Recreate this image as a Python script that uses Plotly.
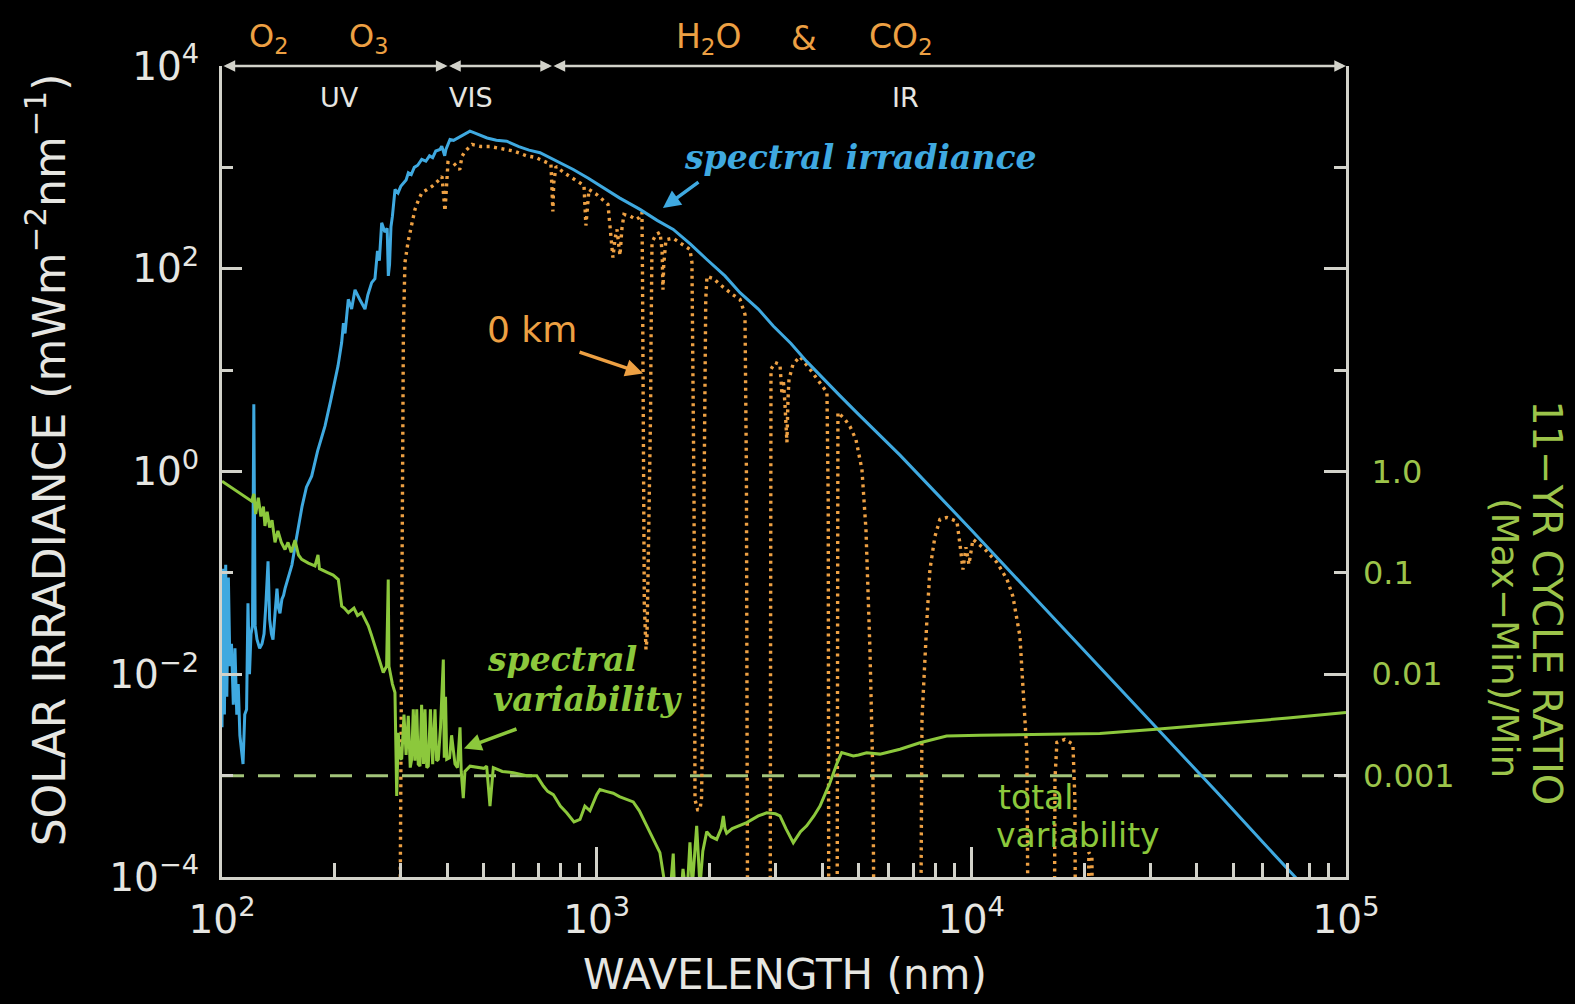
import math
import plotly.graph_objects as go

# ---------------- data ----------------
# Top-of-atmosphere solar spectral irradiance (mW m^-2 nm^-1)
toa_wavelength = [
    100, 100.8, 101.5, 102.3, 103, 104, 105, 106, 107.2, 108.3, 109.5, 110.5,
    111.6, 112.8, 113.8, 115, 116.3, 117.3, 118.4, 119.5, 120.6, 121.6, 122.6,
    124, 126, 127.9, 129.5, 131, 132.7, 134, 135.5, 136.8, 138.5, 140.2, 141.5,
    142.8, 144.5, 146, 147.3, 150, 153.7, 158, 163.5, 168, 173.5, 180, 188.3,
    195, 200, 204, 208.6, 210.9, 213, 217.3, 221.8, 226.5, 233, 240.8, 245,
    250.9, 256, 260, 263, 266.8, 272, 276, 277.9, 280, 282.5, 285, 289.6, 295,
    300, 305, 310, 314.3, 320, 326, 333, 341.2, 350, 358, 365, 372, 381.8, 386,
    393, 396, 406, 415, 425, 436, 446, 459, 470, 490, 510, 540, 575, 620, 660,
    706, 760, 800, 866, 950, 1063, 1150, 1305, 1450, 1601, 1780, 1965, 2200,
    2413, 2700, 2960, 3300, 3634, 4000, 4457, 5000, 5600, 6450, 8000, 10000,
    14000, 20000, 30000, 45000, 60000, 80000,
]
toa_irradiance = [
    0.0030, 0.11, 0.004, 0.12, 0.006, 0.09, 0.012, 0.02, 0.005, 0.018, 0.004,
    0.008, 0.0025, 0.0016, 0.0013, 0.004, 0.0045, 0.05, 0.01, 0.025, 0.03, 4.6,
    0.03, 0.022, 0.018, 0.02, 0.025, 0.05, 0.13, 0.035, 0.025, 0.022, 0.04,
    0.07, 0.045, 0.04, 0.055, 0.06, 0.07, 0.09, 0.12, 0.22, 0.45, 0.7, 0.9,
    1.6, 2.8, 5.0, 8.0, 11, 18.6, 29, 23, 50, 40, 62, 50, 40, 55, 73, 80, 150,
    120, 284, 230, 250, 85, 110, 260, 330, 605, 560, 650, 700, 750, 885, 850,
    1000, 1050, 1197, 1150, 1300, 1250, 1450, 1503, 1620, 1300, 1500, 1884,
    1850, 1950, 2032, 2150, 2275, 2200, 2050, 1950, 1850, 1813, 1600, 1480,
    1393, 1220, 1110, 953, 780, 605, 500, 385, 300, 244, 175, 124, 85, 58, 40,
    27.2, 18.3, 12.2, 8.4, 5.6, 3.66, 2.42, 1.45, 0.63, 0.265, 0.070, 0.0172,
    0.0035, 7.0e-4, 2.2e-4, 7.0e-5,
]

# Surface (0 km) spectral irradiance; 1e-6 marks fully absorbed bands
surface_wavelength = [
    297, 300.4, 302.3, 304.9, 307.8, 313.6, 320, 327.4, 334, 341.9, 352, 363.4,
    375, 386.5, 393.7, 397, 401, 415, 431, 437, 445, 465, 490, 519, 545, 576,
    600, 650, 690, 706, 730, 755, 760, 764, 768, 779, 820, 875, 910, 925, 936,
    945, 954, 1000, 1040, 1072, 1105, 1120, 1133, 1145, 1154, 1168, 1183, 1230,
    1273, 1300, 1321, 1325, 1330, 1340, 1354, 1362, 1371, 1380, 1388, 1393,
    1396, 1400, 1405, 1440, 1476, 1495, 1503, 1510, 1531, 1600, 1700, 1774,
    1796, 1810, 1819, 1825, 1830, 1860, 1887, 1905, 1922, 1934, 1946, 1955,
    1970, 2050, 2133, 2300, 2413, 2488, 2510, 2534, 2901, 2910, 2919, 2992,
    3085, 3123, 3150, 3181, 3200, 3220, 3240, 3261, 3342, 3487, 3709, 3945,
    4118, 4150, 4168, 4378, 4390, 4405, 4599, 4742, 4920, 5105, 5233, 5363,
    5463, 5530, 7292, 7383, 7612, 7754, 7996, 8245, 8607, 9154, 9325, 9497,
    9674, 9854, 10100, 10870, 11700, 12450, 12910, 13480, 13730, 14070, 14250,
    16610, 16720, 16920, 17770, 18670, 18900, 19020, 20340, 20590, 20980,
    21210, 100000,
]
surface_irradiance = [
    1e-6, 0.0057, 0.53, 25, 115, 182, 260, 385, 470, 566, 600, 649, 720, 813,
    370, 700, 1117, 1100, 950, 1280, 1436, 1683, 1608, 1608, 1550, 1503, 1450,
    1300, 1250, 1197, 1120, 1069, 600, 367, 700, 1021, 880, 760, 700, 664, 267,
    400, 605, 540, 480, 431, 129, 200, 244, 180, 135, 250, 343, 330, 306, 320,
    359, 100, 5, 0.05, 0.0176, 0.022, 0.0925, 0.3, 0.835, 4, 16, 60, 182, 218,
    228, 150, 62, 110, 194, 200, 170, 155, 115, 5, 0.53, 0.02, 5.8e-4, 4.6e-4,
    4.6e-4, 6e-4, 0.0057, 0.53, 16, 50, 84, 80, 70, 56, 49.8, 35.5, 1, 1e-6,
    1e-6, 0.05, 10.2, 11.9, 11.4, 5.75, 8, 4.6, 3, 1.94, 5, 8.1, 11.4, 13.6,
    10.2, 7.6, 6.03, 0.5, 1e-6, 1e-6, 0.1, 3.83, 3.27, 2.79, 2.07, 1.05, 0.268,
    0.0176, 9.2e-4, 1e-6, 1e-6, 0.00359, 0.0348, 0.108, 0.229, 0.337, 0.352,
    0.322, 0.191, 0.108, 0.179, 0.121, 0.214, 0.171, 0.127, 0.0863, 0.0586,
    0.0237, 0.0076, 0.0017, 1e-6, 1e-6, 9.2e-4, 0.00213, 0.00228, 0.00204,
    5.8e-4, 1e-6, 1e-6, 1.75e-4, 1.57e-4, 1e-6, 1e-6,
]

# 11-yr solar cycle ratio (Max-Min)/Min
var_wavelength = [
    100, 120, 121.6, 123, 125, 127, 129, 130.2, 132, 134, 136, 138.5, 141, 144,
    147.3, 150, 153, 156.6, 160, 163.2, 170, 177.1, 180.4, 182, 192.1, 198,
    204.4, 206, 208.7, 212, 217.4, 225, 230, 236, 245.8, 250, 256.1, 262,
    266.8, 269.4, 275, 277.8, 279, 280.7, 285, 289.5, 292.6, 295.5, 298, 301.7,
    306, 310, 314.2, 318, 320.8, 324, 327.4, 331, 334, 337.6, 341, 345, 348.2,
    352, 355.3, 360, 365, 370.3, 374, 377.9, 383, 389.7, 392, 395, 397.9, 405,
    410, 418.7, 425, 431.8, 435, 440.6, 445, 459.2, 480, 500, 508.6, 519.1,
    529.8, 560, 599.3, 650, 691.8, 720.5, 740, 766, 800, 831.8, 870, 902.6,
    930, 959.6, 1000, 1020, 1060, 1107, 1150, 1200, 1252, 1300, 1360, 1420,
    1475, 1510, 1538, 1560, 1601, 1620, 1668, 1700, 1740, 1774, 1800, 1849,
    1870, 1887, 1920, 1967, 2020, 2091, 2150, 2178, 2200, 2223, 2300, 2400,
    2515, 2700, 2843, 3000, 3085, 3200, 3348, 3500, 3635, 3800, 3945, 4100,
    4195, 4300, 4371, 4507, 4700, 4841, 5000, 5256, 5703, 6450, 7292, 8590,
    10540, 14330, 22030, 31100, 50000, 70000, 100000,
]
var_ratio = [
    0.80, 0.51, 0.60, 0.38, 0.55, 0.36, 0.45, 0.29, 0.40, 0.28, 0.33, 0.20,
    0.26, 0.20, 0.17, 0.20, 0.16, 0.21, 0.15, 0.136, 0.125, 0.117, 0.15, 0.11,
    0.10, 0.095, 0.086, 0.07, 0.047, 0.045, 0.0405, 0.045, 0.038, 0.0405,
    0.030, 0.025, 0.019, 0.015, 0.0121, 0.0104, 0.012, 0.086, 0.012, 0.0104,
    0.008, 0.0066, 0.00063, 0.00265, 0.0015, 0.00145, 0.004, 0.0016, 0.0039,
    0.0012, 0.00145, 0.0045, 0.0014, 0.0045, 0.0013, 0.00124, 0.005, 0.0013,
    0.0045, 0.0012, 0.00124, 0.0045, 0.0013, 0.0045, 0.0014, 0.00145, 0.003,
    0.014, 0.0015, 0.006, 0.00145, 0.0015, 0.0025, 0.0013, 0.0012, 0.0030,
    0.0011, 0.0006, 0.0011, 0.00124, 0.0012, 0.00118, 0.00124, 0.0005, 0.0012,
    0.0011, 0.00107, 0.0010, 0.00100, 0.00079, 0.0007, 0.00065, 0.0005,
    0.00043, 0.00035, 0.00037, 0.0005, 0.00045, 0.00065, 0.00073, 0.0007,
    0.00067, 0.00062, 0.00058, 0.00055, 0.00045, 0.00032, 0.00024, 0.000174,
    0.0001, 0.00005, 0.00005, 0.00017, 0.00005, 0.00005, 0.00012, 0.00006,
    0.00022, 0.00008, 0.00032, 0.00012, 0.00008, 0.00018, 0.00028, 0.00025,
    0.000235, 0.0003, 0.0004, 0.0003, 0.00027, 0.0003, 0.00032, 0.000344,
    0.0004, 0.00043, 0.00042, 0.0004, 0.0003, 0.000218, 0.00028, 0.00032,
    0.0004, 0.0005, 0.0007, 0.00085, 0.0011, 0.0013, 0.00169, 0.0016, 0.00156,
    0.0016, 0.00168, 0.00163, 0.00182, 0.00211, 0.00246, 0.0025, 0.00255,
    0.00261, 0.00286, 0.0033, 0.0037, 0.0042,
]

total_variability = 0.001
wavelength_span = [100, 100000]

# spectral region boundaries (nm) marked on the top arrow line
region_edges = [100, 400, 760, 100000]

# ---------------- axis ticks ----------------
x_tick_vals = [1e2, 1e3, 1e4, 1e5]
x_tick_text = ["10<sup>2</sup>", "10<sup>3</sup>", "10<sup>4</sup>", "10<sup>5</sup>"]
x_minor_vals = [m * 10 ** e for e in (2, 3, 4) for m in range(2, 10)]

irr_tick_vals = [1e-4, 1e-2, 1e0, 1e2, 1e4]
irr_tick_text = ["10<sup>\u22124</sup>", "10<sup>\u22122</sup>", "10<sup>0</sup>",
                 "10<sup>2</sup>", "10<sup>4</sup>"]
irr_minor_vals = [1e-3, 1e-1, 1e1, 1e3]

ratio_long_vals = [1e-2, 1.0, 1e2]
ratio_long_text = ["0.01", "1.0", ""]
ratio_short_vals = [1e-3, 1e-1, 1e1, 1e3]
ratio_short_text = ["0.001", "0.1", "", ""]

# ---------------- styling ----------------
BG = "#000000"
AXIS = "#d2d2ca"
WHITE = "#e6e6e2"
BLUE = "#3fa9e0"
ORANGE = "#eda043"
GREEN = "#8cc83c"
DASH_GREEN = "#a3c47a"
LABEL_GREEN = "#9cc44a"
SANS = "DejaVu Sans, Liberation Sans, sans-serif"
SERIF = "DejaVu Serif, Liberation Serif, serif"

fig = go.Figure()

fig.add_trace(go.Scatter(
    x=wavelength_span, y=[total_variability] * 2, mode="lines",
    line=dict(color=DASH_GREEN, width=3, dash="22px,14px"),
    hoverinfo="skip", showlegend=False))

fig.add_trace(go.Scatter(
    x=surface_wavelength, y=surface_irradiance, mode="lines",
    line=dict(color=ORANGE, width=3.4, dash="3px,4.5px"),
    showlegend=False, name="0 km"))

fig.add_trace(go.Scatter(
    x=toa_wavelength, y=toa_irradiance, mode="lines",
    line=dict(color=BLUE, width=3),
    showlegend=False, name="spectral irradiance"))

fig.add_trace(go.Scatter(
    x=var_wavelength, y=var_ratio, mode="lines",
    line=dict(color=GREEN, width=3),
    showlegend=False, name="spectral variability"))

# invisible anchors so that the two right-hand ratio axes are drawn
for ax_name in ("y2", "y3"):
    fig.add_trace(go.Scatter(x=[1000], y=[1], yaxis=ax_name, mode="markers",
                             marker=dict(opacity=0), hoverinfo="skip",
                             showlegend=False))

tick_font = dict(family=SANS, size=39, color=WHITE)
ratio_font = dict(family=SANS, size=32, color=LABEL_GREEN)

fig.update_layout(
    width=1575, height=1004,
    margin=dict(l=222, r=229, t=66, b=127, autoexpand=False),
    paper_bgcolor=BG, plot_bgcolor=BG,
    xaxis=dict(
        type="log", range=[2, 5], showgrid=False, zeroline=False,
        showline=True, linecolor=AXIS, linewidth=3,
        ticks="inside", ticklen=30, tickwidth=2.5, tickcolor=AXIS,
        tickmode="array", tickvals=x_tick_vals, ticktext=x_tick_text,
        tickfont=tick_font, ticklabelstandoff=6,
        minor=dict(tickmode="array", tickvals=x_minor_vals, ticks="inside",
                   ticklen=14, tickwidth=2.5, tickcolor=AXIS, showgrid=False),
    ),
    yaxis=dict(
        type="log", range=[-4, 4], showgrid=False, zeroline=False,
        showline=True, linecolor=AXIS, linewidth=3,
        ticks="inside", ticklen=20, tickwidth=2.5, tickcolor=AXIS,
        tickmode="array", tickvals=irr_tick_vals, ticktext=irr_tick_text,
        tickfont=tick_font, ticklabelstandoff=12,
        minor=dict(tickmode="array", tickvals=irr_minor_vals, ticks="inside",
                   ticklen=11, tickwidth=2.5, tickcolor=AXIS, showgrid=False),
    ),
    yaxis2=dict(
        type="log", range=[-4, 4], overlaying="y", side="right",
        showgrid=False, zeroline=False,
        showline=True, linecolor=AXIS, linewidth=3,
        ticks="inside", ticklen=22, tickwidth=2.5, tickcolor=AXIS,
        tickmode="array", tickvals=ratio_long_vals, ticktext=ratio_long_text,
        tickfont=ratio_font, ticklabelstandoff=16,
    ),
    yaxis3=dict(
        type="log", range=[-4, 4], overlaying="y", side="right",
        showgrid=False, zeroline=False, showline=False,
        ticks="inside", ticklen=12, tickwidth=2.5, tickcolor=AXIS,
        tickmode="array", tickvals=ratio_short_vals, ticktext=ratio_short_text,
        tickfont=ratio_font, ticklabelstandoff=16,
    ),
)

annotations = []

# top arrow line split into UV / VIS / IR segments
for lo, hi in zip(region_edges[:-1], region_edges[1:]):
    annotations.append(dict(
        x=math.log10(hi), y=4, xref="x", yref="y",
        ax=math.log10(lo), ay=4, axref="x", ayref="y",
        text="", showarrow=True, arrowside="end+start",
        arrowhead=2, arrowsize=0.9, arrowwidth=2.6, arrowcolor=AXIS,
        standoff=0, startstandoff=0))

def label(text, x, y, size, color, family=SANS, angle=0):
    annotations.append(dict(
        text=text, x=x, y=y, xref="paper", yref="paper",
        showarrow=False, textangle=angle, xanchor="center", yanchor="middle",
        font=dict(family=family, size=size, color=color)))

label("UV", 0.1045, 0.9613, 27, WHITE)
label("VIS", 0.2216, 0.9613, 27, WHITE)
label("IR", 0.6077, 0.9613, 27, WHITE)

label("O<sub>2</sub>", 0.0418, 1.0345, 32, ORANGE)
label("O<sub>3</sub>", 0.1304, 1.0345, 32, ORANGE)
label("H<sub>2</sub>O", 0.4333, 1.0345, 33, ORANGE)
label("&amp;", 0.5174, 1.0345, 33, ORANGE)
label("CO<sub>2</sub>", 0.6041, 1.0345, 33, ORANGE)

label("<b><i>spectral irradiance</i></b>", 0.5685, 0.887, 33, BLUE, SERIF)
label("0 km", 0.2758, 0.6757, 36, ORANGE)
label("<b><i>spectral</i></b>", 0.3029, 0.2685, 33, GREEN, SERIF)
label("<b><i>variability</i></b>", 0.3253, 0.2185, 33, GREEN, SERIF)
label("total", 0.7238, 0.0986, 33, GREEN)
label("variability", 0.7614, 0.0509, 33, GREEN)

label("WAVELENGTH (nm)", 0.5013, -0.1201, 42, WHITE)
label("SOLAR IRRADIANCE (mWm<sup>\u22122</sup>nm<sup>\u22121</sup>)",
      -0.1573, 0.514, 44, WHITE, angle=-90)
label("11\u2212YR CYCLE RATIO", 1.1786, 0.338, 40, LABEL_GREEN, angle=90)
label("(Max\u2212Min)/Min", 1.1405, 0.2947, 37, LABEL_GREEN, angle=90)

# pointer arrows for the curve labels
def pointer(x, y, ax, ay, color):
    annotations.append(dict(
        x=x, y=y, xref="paper", yref="paper", ax=ax, ay=ay,
        text="", showarrow=True, arrowhead=2, arrowsize=1.0,
        arrowwidth=3.5, arrowcolor=color, standoff=0))

pointer(0.3923, 0.8249, 37, -27, BLUE)
pointer(0.3746, 0.6207, -65, -22, ORANGE)
pointer(0.2153, 0.1585, 54, -20, GREEN)

fig.update_layout(annotations=annotations)

fig.write_html("out.html")
